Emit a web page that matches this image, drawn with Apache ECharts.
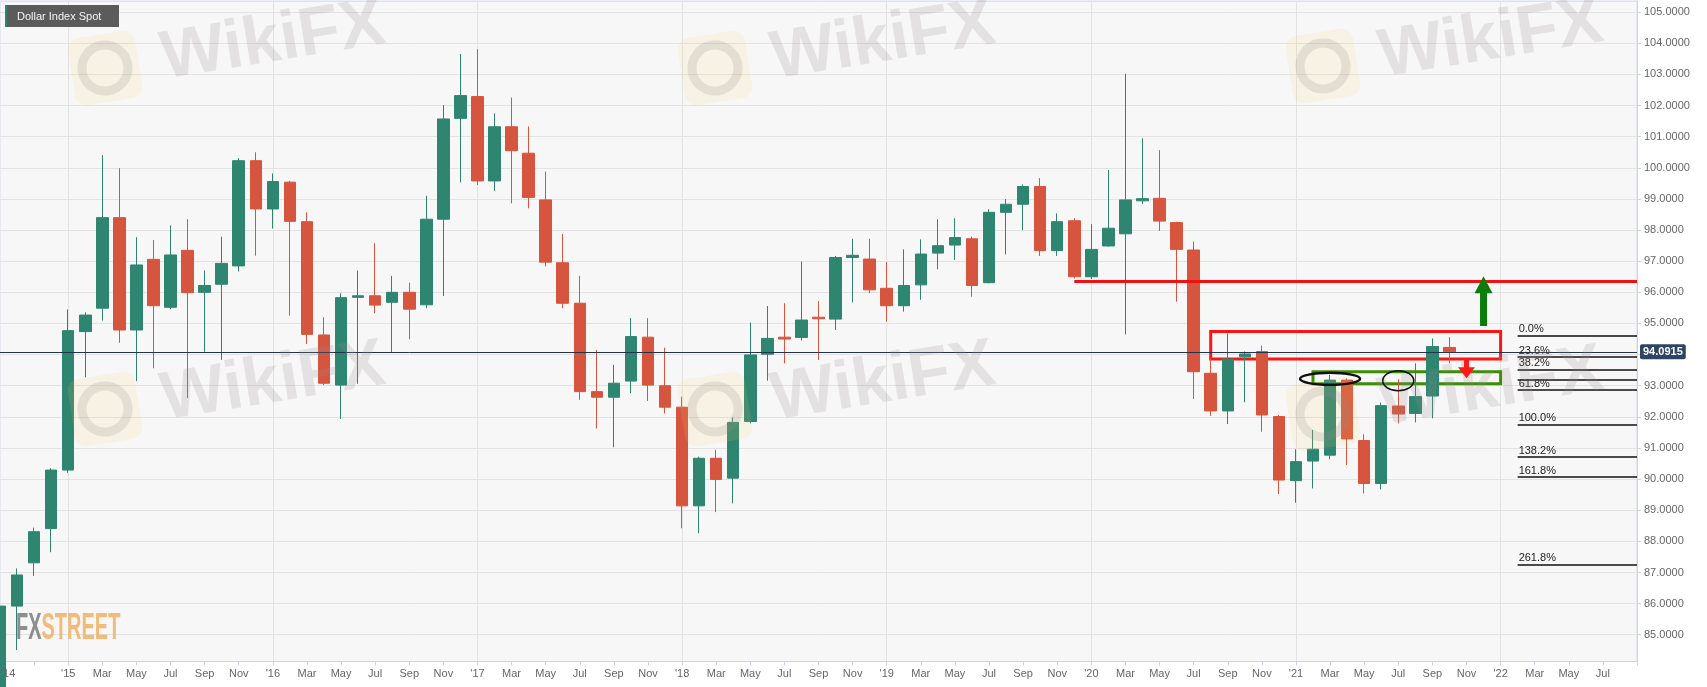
<!DOCTYPE html>
<html><head><meta charset="utf-8">
<script src="https://cdn.jsdelivr.net/npm/echarts@6/dist/echarts.min.js"></script>
<style>html,body{margin:0;padding:0;background:#fff;}#c{width:1707px;height:687px;}</style>
</head><body><div id="c"></div>
<script>
// ---------- DATA ----------
const categories = [
 '2014-09','2014-10','2014-11','2014-12',
 '2015-01','2015-02','2015-03','2015-04','2015-05','2015-06','2015-07','2015-08','2015-09','2015-10','2015-11','2015-12',
 '2016-01','2016-02','2016-03','2016-04','2016-05','2016-06','2016-07','2016-08','2016-09','2016-10','2016-11','2016-12',
 '2017-01','2017-02','2017-03','2017-04','2017-05','2017-06','2017-07','2017-08','2017-09','2017-10','2017-11','2017-12',
 '2018-01','2018-02','2018-03','2018-04','2018-05','2018-06','2018-07','2018-08','2018-09','2018-10','2018-11','2018-12',
 '2019-01','2019-02','2019-03','2019-04','2019-05','2019-06','2019-07','2019-08','2019-09','2019-10','2019-11','2019-12',
 '2020-01','2020-02','2020-03','2020-04','2020-05','2020-06','2020-07','2020-08','2020-09','2020-10','2020-11','2020-12',
 '2021-01','2021-02','2021-03','2021-04','2021-05','2021-06','2021-07','2021-08','2021-09','2021-10','2021-11','2021-12',
 '2022-01','2022-02','2022-03','2022-04','2022-05','2022-06','2022-07','2022-08','2022-09'
];
const opens = [82.80,85.92,87.31,88.41,
 90.29,94.74,95.49,98.40,94.79,97.06,95.52,97.35,96.00,96.26,96.85,100.23,
 98.68,99.54,98.27,94.63,93.02,95.84,95.89,95.68,96.00,95.60,98.35,101.59,
 102.29,99.58,101.32,100.47,98.97,96.95,95.65,92.81,92.63,93.15,94.56,93.00,
 92.31,89.14,90.67,90.03,91.85,94.01,94.56,94.55,95.20,95.14,97.12,97.07,
 96.13,95.57,96.24,97.26,97.52,97.72,96.31,98.57,98.83,99.40,97.34,98.30,
 96.50,97.49,97.88,98.94,99.02,98.24,97.36,93.40,92.19,93.93,94.10,92.01,
 89.95,90.58,90.77,93.18,91.24,89.86,92.35,92.11,92.67,94.23];
const closes = [85.92,86.92,88.31,90.29,
 94.77,95.27,98.40,94.79,96.88,95.57,97.20,95.99,96.22,96.93,100.23,98.68,
 99.56,98.28,94.65,93.08,95.83,95.89,95.59,96.00,95.46,98.35,101.57,102.32,
 99.58,101.32,100.55,99.05,96.97,95.65,92.81,92.63,93.08,94.58,93.02,92.31,
 89.14,90.67,89.99,91.82,93.99,94.52,94.50,95.11,95.15,97.12,97.19,96.08,
 95.57,96.22,97.23,97.50,97.76,96.22,98.57,98.83,99.40,97.34,98.27,96.50,
 97.38,98.06,98.97,99.01,98.29,97.38,93.45,92.19,93.86,94.02,92.06,89.97,
 90.56,90.96,93.18,91.29,89.86,92.36,92.09,92.65,94.26,94.09];
const lows = [82.60,84.51,86.89,87.65,
 90.20,93.27,95.09,94.38,93.15,93.56,95.46,92.60,94.09,93.83,96.67,97.18,
 98.05,95.25,94.34,93.02,91.93,93.06,95.33,94.07,94.49,95.49,95.88,99.53,
 99.45,99.26,98.86,98.70,96.83,95.49,92.55,91.63,91.02,92.76,92.51,92.11,
 88.42,88.26,88.94,89.22,91.79,93.16,93.72,94.45,93.83,94.79,95.68,95.97,
 95.06,95.38,95.76,96.74,97.04,95.86,96.29,97.22,98.00,97.17,97.17,96.45,
 96.43,97.47,94.65,98.84,97.97,95.70,92.57,92.03,91.77,92.47,91.52,89.52,
 89.24,89.70,90.64,90.45,89.54,89.67,91.79,91.82,91.95,93.72];
const highs = [86.22,87.13,88.44,90.35,
 95.45,95.36,100.41,99.99,97.77,97.68,98.15,98.35,96.70,97.79,100.31,100.50,
 99.82,99.58,98.57,95.20,95.97,96.70,97.58,96.53,96.31,99.10,102.02,103.66,
 103.81,101.75,102.26,101.33,99.88,97.87,96.53,94.15,93.67,95.17,95.17,94.22,
 92.65,90.72,90.94,91.98,95.03,95.56,95.65,96.99,95.72,97.17,97.72,97.72,
 96.97,97.38,97.70,98.35,98.38,97.79,98.67,99.00,99.47,99.67,98.54,98.38,
 98.19,99.93,103.02,100.95,100.57,98.27,97.63,93.88,94.68,94.10,94.29,92.06,
 90.96,91.58,93.35,93.24,91.44,92.46,93.21,93.72,94.52,94.56];

const lastPrice = 94.0915;
const resistanceLevel = 96.37;
const resistanceFrom = '2019-12';
const fibFrom = '2022-02';
const fibLabels = ['0.0%','23.6%','38.2%','','61.8%','100.0%','138.2%','161.8%','261.8%'];
const fibLevels = [94.60,93.92,93.51,93.18,92.86,91.76,90.71,90.06,87.26];
const redBox = {from:'2020-08', to:'2022-01', top:94.74, bottom:93.86};
const greenBox = {from:'2021-02', to:'2022-01', top:93.45, bottom:93.06};
const upArrow = {at:'2021-12', from:94.92, to:96.52};
const downArrow = {at:'2021-11', from:93.86, to:93.24};
const ellipses = [{at:'2021-03', price:93.22, rx:30, ry:6, w:2.5},{at:'2021-07', price:93.16, rx:15.5, ry:10, w:1.5}];
const firstLabel = "'14";
const yMin = 84.14, yMax = 105.36;

// ---------- CHART ----------
const MON = ['Jan','Feb','Mar','Apr','May','Jun','Jul','Aug','Sep','Oct','Nov','Dec'];
const UP = '#2e8570', DOWN = '#d6553f', FONT = 'Liberation Sans';
const candleData = opens.map((o, i) => [o, closes[i], lows[i], highs[i]]);
const lastCat = categories[categories.length - 1];

const fibLines = fibLevels.map((v, i) => [
  {coord:[fibFrom, v], name: fibLabels[i],
   lineStyle:{color:'#111', width:1.5, type:'solid'},
   label:{show: fibLabels[i] !== '', position:'insideStartTop', formatter:'{b}', color:'#222', fontSize:11, fontFamily:FONT, distance:[1,1]}},
  {coord:[lastCat, v]}
]);

const chart = echarts.init(document.getElementById('c'));
chart.setOption({
  animation:false,
  backgroundColor:'#ffffff',
  textStyle:{fontFamily:FONT},
  grid:{left:0, right:70, top:1, bottom:25.5, show:true, backgroundColor:'#f7f7f7', borderColor:'#d6dbe8', borderWidth:1, containLabel:false, outerBoundsMode:'none'},
  xAxis:{
    type:'category', data:categories, boundaryGap:false,
    axisLine:{show:true, lineStyle:{color:'#ccd3e3'}},
    axisTick:{show:true, interval:1, length:4, lineStyle:{color:'#ccd3e3'}},
    axisLabel:{interval:1, color:'#666', fontSize:11, margin:7, hideOverlap:false,
      formatter:(v, i) => {
        if (i < 4 || i === categories.length - 1) return '';
        const p = v.split('-');
        return p[1] === '01' ? "'" + p[0].slice(2) : MON[+p[1] - 1];
      }},
    splitLine:{show:true, interval:(i, v) => v.slice(5) === '01', lineStyle:{color:'#e2e2e2'}}
  },
  yAxis:{
    type:'value', position:'right', min:yMin, max:yMax, splitNumber:20, scale:true,
    axisLine:{show:true, lineStyle:{color:'#ccd3e3'}},
    axisTick:{show:true, length:4, lineStyle:{color:'#ccd3e3'}},
    axisLabel:{color:'#666', fontSize:11, margin:7, showMinLabel:false, showMaxLabel:false,
      formatter:v => Math.abs(v - Math.round(v)) < 1e-6 ? v.toFixed(4) : ''},
    splitLine:{show:true, lineStyle:{color:'#e2e2e2'}}
  },
  series:[{
    type:'candlestick', data:candleData, barWidth:12, clip:true,
    itemStyle:{color:UP, color0:DOWN, borderColor:UP, borderColor0:DOWN, borderWidth:1},
    markArea:{silent:true, data:[
      [{coord:[redBox.from, redBox.top], itemStyle:{color:'rgba(0,0,0,0)', borderColor:'#ff1414', borderWidth:3}}, {coord:[redBox.to, redBox.bottom]}],
      [{coord:[greenBox.from, greenBox.top], itemStyle:{color:'rgba(0,0,0,0)', borderColor:'#3f8c08', borderWidth:3}}, {coord:[greenBox.to, greenBox.bottom]}]
    ]},
    markLine:{silent:true, symbol:['none','none'], data:[
      {yAxis:lastPrice, lineStyle:{color:'#22324a', width:1, type:'solid'},
       label:{show:true, position:'end', formatter:lastPrice.toFixed(4), color:'#fff', fontWeight:'bold', fontSize:11, fontFamily:FONT,
              backgroundColor:'#2e4464', padding:[2,3,2,3], borderRadius:2, distance:3}},
      [{coord:[resistanceFrom, resistanceLevel], lineStyle:{color:'#f01212', width:3, type:'solid'}, label:{show:false}},
       {coord:[lastCat, resistanceLevel]}]
    ].concat(fibLines)}
  }]
});

// ---------- ANNOTATIONS (pixel positions from the chart's own scales) ----------
function px(cat, price){ return chart.convertToPixel({gridIndex:0}, [cat, price]); }
function arrowPts(cx, yBase, yTip, sw, hw, hh){
  const d = yTip > yBase ? 1 : -1, hb = yTip - d*hh;
  return [[cx, yTip],[cx+hw/2, hb],[cx+sw/2, hb],[cx+sw/2, yBase],[cx-sw/2, yBase],[cx-sw/2, hb],[cx-hw/2, hb]];
}
const g = [];
const ua0 = px(upArrow.at, upArrow.from), ua1 = px(upArrow.at, upArrow.to);
g.push({type:'polygon', shape:{points:arrowPts(ua0[0], ua0[1], ua1[1], 7, 18, 17)}, style:{fill:'#0b7d0b'}, z:60, silent:true});
const da0 = px(downArrow.at, downArrow.from), da1 = px(downArrow.at, downArrow.to);
g.push({type:'polygon', shape:{points:arrowPts(da0[0], da0[1], da1[1], 5, 17, 11)}, style:{fill:'#ff1a1a'}, z:60, silent:true});
ellipses.forEach(e => {
  const p = px(e.at, e.price);
  g.push({type:'ellipse', shape:{cx:p[0], cy:p[1], rx:e.rx, ry:e.ry}, style:{fill:null, stroke:'#111', lineWidth:e.w}, z:60, silent:true});
});

// first x label, left-aligned at the first category
const fp = px(categories[0], yMin);
g.push({type:'text', x:fp[0] + 1, y:fp[1] + 7, style:{text:firstLabel, fill:'#666', font:'11px "Liberation Sans"', align:'left', verticalAlign:'top'}, z:72, silent:true});

// title badge
g.push({type:'rect', shape:{x:5, y:5, width:114, height:22}, style:{fill:'#5b5b5b'}, z:70, silent:true});
g.push({type:'rect', shape:{x:5, y:5, width:2, height:22}, style:{fill:'#2e8570'}, z:71, silent:true});
g.push({type:'text', x:17, y:16.5, style:{text:'Dollar Index Spot', fill:'#f4f4f4', font:'11px "Liberation Sans"', verticalAlign:'middle'}, z:72, silent:true});

// FXStreet logo
g.push({type:'text', x:16, y:629, scaleX:0.54, scaleY:1, style:{text:'{a|FX}{b|STREET}', verticalAlign:'middle',
  rich:{a:{fill:'rgba(130,130,130,0.9)', font:'bold 37px "Liberation Sans"'}, b:{fill:'rgba(242,180,106,0.9)', font:'bold 37px "Liberation Sans"'}}}, z:40, silent:true});

// WikiFX watermarks
const wm = [[273,42],[883,42],[1491,40],[273,383],[883,383],[1491,388]];
wm.forEach(p => {
  g.push({type:'text', x:p[0], y:p[1], rotation:0.16, style:{text:'WikiFX', font:'bold 68px "Liberation Sans"', fill:'rgba(150,140,140,0.2)', align:'center', verticalAlign:'middle'}, z:50, silent:true});
  g.push({type:'group', x:p[0]-168, y:p[1]+26, rotation:0.16, z:50, silent:true, children:[
    {type:'rect', shape:{x:-34, y:-34, width:68, height:68, r:12}, style:{fill:'rgba(245,205,100,0.13)'}, z:50},
    {type:'circle', shape:{cx:0, cy:0, r:23}, style:{fill:null, stroke:'rgba(150,140,140,0.2)', lineWidth:9}, z:50}
  ]});
});
chart.setOption({graphic:g});
</script></body></html>
